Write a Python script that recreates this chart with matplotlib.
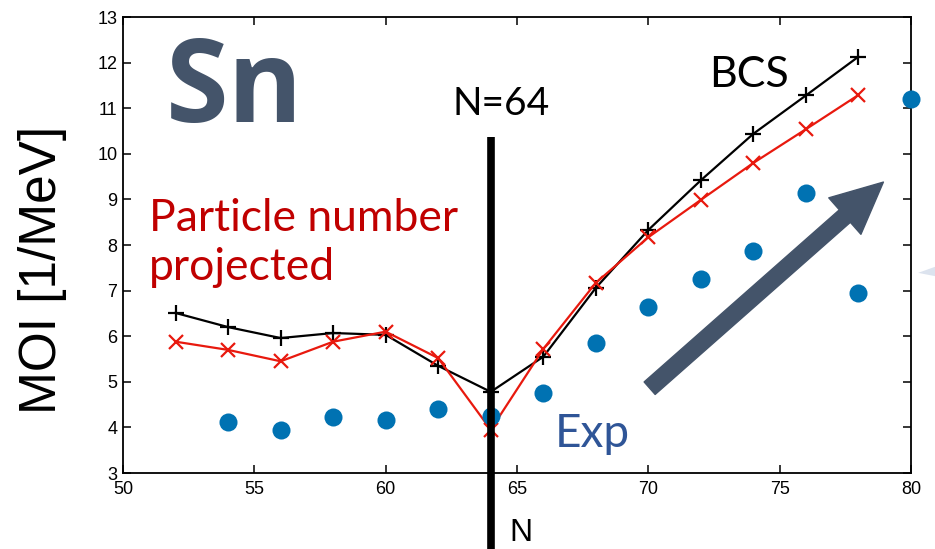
import matplotlib
matplotlib.use("Agg")
import matplotlib.pyplot as plt
from matplotlib.patches import Polygon

# neutron numbers and moments of inertia [1/MeV]
n_bcs = [52, 54, 56, 58, 60, 62, 64, 66, 68, 70, 72, 74, 76, 78]
moi_bcs = [6.51, 6.20, 5.96, 6.07, 6.03, 5.35, 4.78, 5.55, 7.06, 8.33, 9.42, 10.44, 11.28, 12.13]

n_pnp = [52, 54, 56, 58, 60, 62, 64, 66, 68, 70, 72, 74, 76, 78]
moi_pnp = [5.88, 5.70, 5.45, 5.88, 6.10, 5.52, 3.95, 5.72, 7.17, 8.17, 8.99, 9.80, 10.54, 11.29]

n_exp = [54, 56, 58, 60, 62, 64, 66, 68, 70, 72, 74, 76, 78, 80]
moi_exp = [4.12, 3.95, 4.23, 4.16, 4.40, 4.25, 4.75, 5.85, 6.63, 7.25, 7.87, 9.14, 6.95, 11.20]

x_ticks = [50, 55, 60, 65, 70, 75, 80]
y_ticks = list(range(3, 14))

slate = "#44546a"
red = "#e8190e"
dark_red = "#c00000"

plt.rcParams["font.family"] = ["Liberation Sans", "DejaVu Sans"]

fig = plt.figure(figsize=(9.35, 5.49), dpi=100)
ax = fig.add_axes([0.1316, 0.1384, 0.8427, 0.8306])

ax.plot(n_bcs, moi_bcs, color="black", lw=1.6, marker="+", ms=11, mew=1.6, zorder=4)
ax.plot(n_pnp, moi_pnp, color=red, lw=1.6, marker="x", ms=10, mew=1.6, zorder=4)
ax.plot(n_exp, moi_exp, ls="none", marker="o", ms=13, color="#0072b2",
        mec="none", clip_on=False, zorder=5)

ax.set_xlim(50, 80)
ax.set_ylim(3, 13)
ax.set_xticks(x_ticks)
ax.set_yticks(y_ticks)
ax.tick_params(direction="in", length=6, width=1.1, top=True, right=True,
               labelsize=13, pad=6)
ax.tick_params(axis="y", pad=4)
for sp in ax.spines.values():
    sp.set_linewidth(1.3)

ax.set_ylabel("MOI [1/MeV]", fontsize=37)
ax.yaxis.set_label_coords(-0.071, 0.445)

# shell closure marker at N=64
ax.plot([64, 64], [10.37, 1.2], color="black", lw=5.5, clip_on=False,
        solid_capstyle="butt", zorder=6)
ax.text(64.4, 11.1, "N=64", fontsize=28, family="Lato", ha="center",
        va="center")
ax.text(65.15, 1.68, "N", fontsize=23, ha="center", va="center",
        clip_on=False)

ax.text(54.25, 11.35, "Sn", fontsize=82, family="Open Sans", fontweight="bold",
        color=slate, ha="center", va="center")
ax.text(51.0, 8.05, "Particle number\nprojected", fontsize=32, family="Lato",
        color=dark_red, ha="left", va="center", linespacing=1.25)
ax.text(73.85, 11.72, "BCS", fontsize=31, family="Lato", ha="center",
        va="center")
ax.text(67.85, 3.85, "Exp", fontsize=33, family="Lato", color="#2f5597",
        ha="center", va="center")

ax.annotate("", xy=(78.95, 9.38), xytext=(70.05, 4.86),
            arrowprops=dict(arrowstyle="simple,tail_width=0.6,head_width=1.75,head_length=1.85",
                            mutation_scale=20, color=slate, shrinkA=0, shrinkB=0),
            zorder=3)

# faint shape at the right border
fig.patches.append(Polygon([[0.982, 0.503], [1.0, 0.514], [1.0, 0.497]],
                           closed=True, transform=fig.transFigure,
                           facecolor="#dce3ee", edgecolor="none"))

fig.savefig("out.png", dpi=100)
